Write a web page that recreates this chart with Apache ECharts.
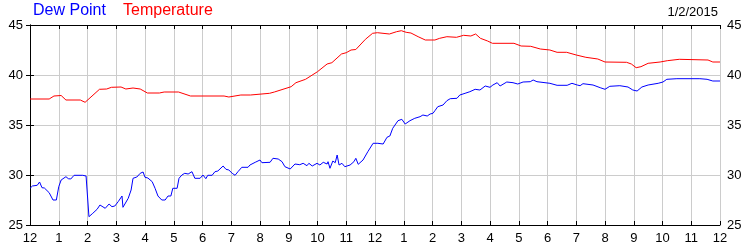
<!DOCTYPE html>
<html><head><meta charset="utf-8">
<script src="https://cdn.jsdelivr.net/npm/echarts@6/dist/echarts.min.js"></script>
<style>html,body{margin:0;padding:0;background:#fff}#c{width:750px;height:250px}</style>
</head><body><div id="c"></div>
<script>
// minutes since midnight
const tempTimes = [0,40,50,65,75,105,115,145,160,170,190,200,215,230,245,270,280,310,335,405,415,440,460,500,510,545,555,575,600,620,630,650,660,670,680,700,715,725,750,765,775,785,795,810,825,845,855,870,890,905,920,930,940,955,965,1010,1025,1045,1065,1085,1100,1120,1140,1160,1185,1200,1245,1255,1265,1275,1290,1315,1330,1355,1415,1425,1440];
const tempValues = [37.6,37.6,37.9,37.95,37.5,37.5,37.27,38.57,38.6,38.77,38.8,38.6,38.7,38.6,38.2,38.2,38.3,38.3,37.9,37.9,37.8,38.0,38.0,38.17,38.3,38.83,39.23,39.57,40.33,41.1,41.23,42.1,42.23,42.5,42.55,43.57,44.17,44.23,44.1,44.33,44.43,44.27,44.2,43.83,43.5,43.5,43.67,43.83,43.77,43.97,43.9,44.1,43.67,43.4,43.17,43.17,42.9,42.87,42.6,42.5,42.27,42.27,42.0,41.77,41.6,41.3,41.27,41.1,40.73,40.83,41.17,41.3,41.43,41.57,41.5,41.3,41.3];
const dewTimes = [0,5,15,20,25,30,40,48,55,60,65,75,80,85,92,110,112,117,123,131,140,146,150,157,161,165,171,177,184,192,194,198,205,211,215,223,230,236,240,246,255,261,267,275,282,288,294,298,307,311,317,323,330,338,344,355,361,367,371,380,386,392,403,409,415,422,428,434,442,455,459,470,480,484,501,507,518,526,532,543,553,563,570,578,582,589,599,605,612,620,622,626,632,637,641,645,651,657,668,676,680,685,695,705,716,726,737,745,751,757,768,776,783,793,803,814,820,829,835,841,845,851,862,870,877,891,897,908,918,929,939,950,960,966,975,981,995,1008,1018,1029,1044,1050,1058,1085,1100,1121,1131,1142,1148,1154,1175,1190,1200,1210,1231,1248,1258,1267,1277,1290,1311,1321,1329,1350,1398,1413,1425,1440];
const dewValues = [28.67,28.9,28.97,29.3,28.73,28.7,28.23,27.5,27.5,28.83,29.5,29.83,29.63,29.6,29.97,29.97,30.17,29.9,25.83,26.17,26.57,27.0,27.0,26.67,26.67,27.1,26.83,26.9,27.33,27.9,26.77,27.1,27.67,28.5,29.67,29.8,30.17,30.3,29.77,29.7,29.33,28.67,27.9,27.5,27.5,27.9,27.9,28.67,28.67,29.67,30.0,30.17,30.1,30.33,29.67,29.67,30.0,29.63,29.97,29.97,30.33,30.4,30.9,30.57,30.5,30.17,29.97,30.33,30.77,30.77,31.0,31.27,31.5,31.23,31.27,31.67,31.6,31.33,30.83,30.6,31.1,31.03,31.17,30.93,31.17,30.9,31.17,31.0,31.27,31.1,31.33,30.67,31.4,31.23,32.0,31.0,31.17,30.83,31.0,31.33,31.67,31.07,31.5,32.33,33.17,33.17,33.1,33.77,33.9,34.67,35.43,35.57,35.1,35.43,35.67,35.83,36.0,35.9,36.1,36.17,36.43,36.83,37.0,37.43,37.63,37.67,38.0,38.17,38.33,38.57,38.5,38.9,38.77,39.0,39.23,38.9,39.3,39.23,39.1,39.3,39.33,39.5,39.33,39.17,38.97,38.97,39.17,39.0,38.93,39.13,39.0,38.73,38.57,38.87,38.93,38.8,38.5,38.4,38.8,39.0,39.17,39.3,39.57,39.63,39.63,39.57,39.4,39.4];
const hourLabels = ['12','1','2','3','4','5','6','7','8','9','10','11','12','1','2','3','4','5','6','7','8','9','10','11','12'];
const dateLabel = '1/2/2015';

const pair = (t, v) => t.map((x, i) => [x, v[i]]);
const font = 'Liberation Sans, Arial, sans-serif';
const chart = echarts.init(document.getElementById('c'), null, {renderer: 'canvas'});
const axisCommon = {
  axisLine: {show: true, lineStyle: {color: '#000', width: 1}},
  axisTick: {show: true, inside: true, length: 4, lineStyle: {color: '#000'}},
};
chart.setOption({
  animation: false,
  backgroundColor: '#fff',
  title: [
    {text: 'Dew Point', left: 33, top: 3, padding: 0, textStyle: {color: '#0000ff', fontSize: 16, fontWeight: 'normal', fontFamily: font}},
    {text: 'Temperature', left: 123, top: 3, padding: 0, textStyle: {color: '#ff0000', fontSize: 16, fontWeight: 'normal', fontFamily: font}},
    {text: dateLabel, right: 32, top: 6, padding: 0, textStyle: {color: '#000', fontSize: 13, fontWeight: 'normal', fontFamily: font}}
  ],
  grid: {left: 30, right: 30, top: 25, bottom: 25, containLabel: false},
  xAxis: [
    Object.assign({type: 'value', min: 0, max: 1440, interval: 60, position: 'bottom',
      axisLabel: {color: '#000', fontSize: 13, fontFamily: font, margin: 7, showMinLabel: true, showMaxLabel: true,
        formatter: v => hourLabels[Math.round(v / 60)]},
      splitLine: {show: true, lineStyle: {color: '#cccccc', width: 1}}}, axisCommon),
    Object.assign({type: 'value', min: 0, max: 1440, interval: 60, position: 'top',
      axisLabel: {show: false}, splitLine: {show: false}}, axisCommon)
  ],
  yAxis: [
    Object.assign({type: 'value', min: 25, max: 45, interval: 5, position: 'left',
      axisLabel: {color: '#000', fontSize: 13, fontFamily: font, margin: 7},
      splitLine: {show: true, lineStyle: {color: '#cccccc', width: 1}}}, axisCommon),
    Object.assign({type: 'value', min: 25, max: 45, interval: 5, position: 'right',
      axisLabel: {color: '#000', fontSize: 13, fontFamily: font, margin: 7},
      splitLine: {show: false}}, axisCommon)
  ],
  series: [
    {name: 'Temperature', type: 'line', data: pair(tempTimes, tempValues), showSymbol: false, symbol: 'none',
      lineStyle: {color: '#ff0000', width: 1}, z: 3},
    {name: 'Dew Point', type: 'line', data: pair(dewTimes, dewValues), showSymbol: false, symbol: 'none',
      lineStyle: {color: '#0000ff', width: 1}, z: 4}
  ]
});
</script></body></html>
